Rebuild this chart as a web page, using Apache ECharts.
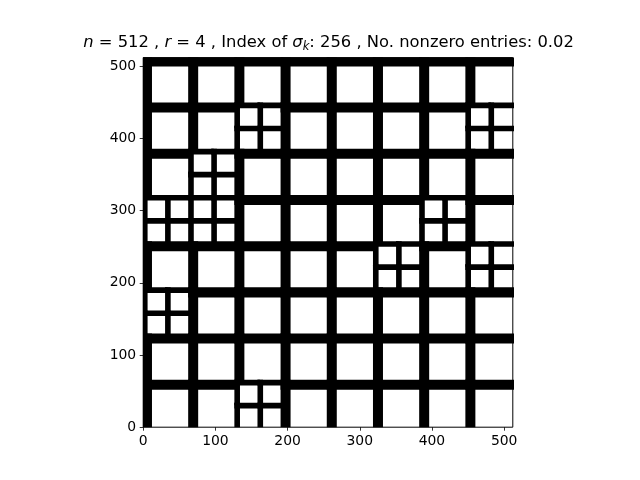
<!DOCTYPE html>
<html><head><meta charset="utf-8">
<script src="https://cdn.jsdelivr.net/npm/echarts@6/dist/echarts.min.js"></script>
<style>html,body{margin:0;padding:0;background:#fff}#c{width:640px;height:480px}</style>
</head><body><div id="c"></div>
<script>
// matrix / block structure
const matrixSize = 512;
const blockSize = 64;
const blockCount = 8;
// 64-blocks (row index counted from the top, column index) that are split into 2x2 sub-blocks
const splitBlocks = [[1,2],[1,7],[2,1],[3,0],[3,1],[3,6],[4,5],[4,7],[5,0],[7,2]];
const xTicks = [0,100,200,300,400,500];
const yTicks = [0,100,200,300,400,500];
const titleText = '{i|n} = 512 , {i|r} = 4 , Index of {i|σ}{s|k}: 256 , No. nonzero entries: 0.02';

// leaf blocks: [x0, yTop, size]
const leaves = [];
for (let r = 0; r < blockCount; r++) {
  for (let c = 0; c < blockCount; c++) {
    const split = splitBlocks.some(b => b[0] === r && b[1] === c);
    const x0 = c * blockSize, yTop = matrixSize - r * blockSize;
    if (!split) leaves.push([x0, yTop, blockSize]);
    else {
      const h = blockSize / 2;
      for (let i = 0; i < 2; i++) for (let j = 0; j < 2; j++) leaves.push([x0 + j * h, yTop - i * h, h]);
    }
  }
}

function renderItem(params, api) {
  const x0 = api.value(0), yT = api.value(1), s = api.value(2);
  const pad = 1.7, bw = 0.19 * s;
  const rect = (xa, xb, ya, yb) => {
    const p1 = api.coord([xa, yb]);
    const p2 = api.coord([xb, ya]);
    return {type: 'rect', shape: {x: p1[0], y: p1[1], width: p2[0] - p1[0], height: p2[1] - p1[1]},
            style: {fill: '#000'}};
  };
  return {type: 'group', children: [
    rect(x0 - pad, x0 + bw, yT - s - pad, yT + pad),
    rect(x0 - pad, x0 + s + pad, yT - bw, yT + pad)
  ]};
}

const font = 'DejaVu Sans';
const axisCommon = {
  type: 'value', min: 0, max: matrixSize,
  axisLine: {show: false},
  splitLine: {show: false},
  axisTick: {show: true, length: 3.5, lineStyle: {color: '#000', width: 0.8}},
  axisLabel: {color: '#000', fontSize: 13.9, fontFamily: font, margin: 7}
};
const chart = echarts.init(document.getElementById('c'), null, {renderer: 'canvas'});
chart.setOption({
  animation: false,
  backgroundColor: '#fff',
  grid: {left: 143.2, top: 57.6, width: 369.6, height: 369.6, show: true,
         borderColor: '#000', borderWidth: 1, backgroundColor: '#fff'},
  xAxis: Object.assign({}, axisCommon, {position: 'bottom',
    axisTick: Object.assign({}, axisCommon.axisTick, {customValues: xTicks}),
    axisLabel: Object.assign({}, axisCommon.axisLabel, {customValues: xTicks})}),
  yAxis: Object.assign({}, axisCommon, {position: 'left',
    axisTick: Object.assign({}, axisCommon.axisTick, {customValues: yTicks}),
    axisLabel: Object.assign({}, axisCommon.axisLabel, {customValues: yTicks})}),
  graphic: [{
    type: 'text', x: 328.5, y: 43,
    style: {
      text: titleText, fontSize: 16.35, fontFamily: font, fill: '#000',
      align: 'center', verticalAlign: 'middle',
      rich: {
        i: {fontStyle: 'italic', fontSize: 16.35, fontFamily: font},
        s: {fontStyle: 'italic', fontSize: 11.5, fontFamily: font, padding: [8, 0, 0, 0]}
      }
    }
  }],
  series: [{
    type: 'custom', renderItem: renderItem, clip: true,
    encode: {x: 0, y: 1},
    data: leaves
  }]
});
</script></body></html>
